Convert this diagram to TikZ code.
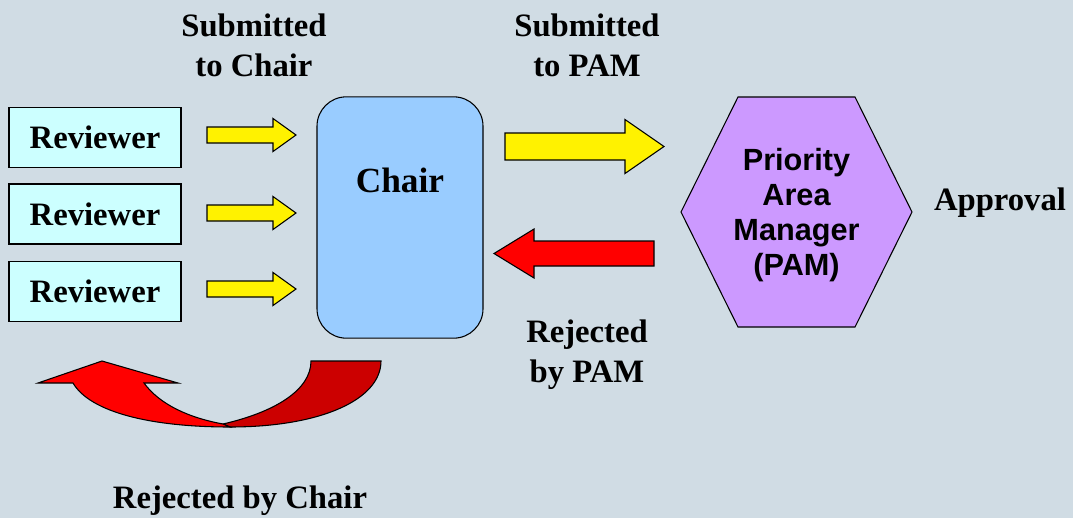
\documentclass[tikz,border=0pt]{standalone}
\usepackage{fontspec}
\setmainfont{Liberation Serif}
\setsansfont{Liberation Sans}
\usetikzlibrary{positioning,calc}
\definecolor{bgc}{RGB}{208,220,228}
\definecolor{revc}{RGB}{204,255,255}
\definecolor{chairc}{RGB}{153,204,255}
\definecolor{pamc}{RGB}{204,153,255}
\definecolor{darkred}{RGB}{204,0,0}
\tikzset{
  rev/.style={draw, thick, fill=revc, minimum width=129pt, minimum height=45pt, inner sep=0pt, font=\bfseries\fontsize{24.5}{30}\selectfont},
  chairbox/.style={draw, thick, fill=chairc, rounded corners=22pt, minimum width=124.5pt, minimum height=181pt},
  ttl/.style={font=\bfseries\fontsize{26.5}{30}\selectfont},
  lbl/.style={align=center, font=\bfseries\fontsize{24.5}{30}\selectfont},
  hexlbl/.style={align=center, font=\sffamily\bfseries\fontsize{23}{26.25}\selectfont},
  yarr/.style={draw, thick, fill=yellow},
  rarr/.style={draw, thick, fill=red},
}
% block arrow: style, tail x, neck x, tip x, y, half shaft, half head
\newcommand{\blkarrow}[7]{\draw[#1] (#2,#5-#6) -- (#3,#5-#6) -- (#3,#5-#7) -- (#4,#5) -- (#3,#5+#7) -- (#3,#5+#6) -- (#2,#5+#6) -- cycle;}

\begin{document}
\begin{tikzpicture}[x=0.75pt,y=-0.75pt]
\fill[bgc] (0,0) rectangle (1073,518);
\useasboundingbox (0,0) rectangle (1073,518);

% reviewers
\node[rev] (r1) at (95,137.5) {Reviewer};
\node[rev] (r2) at (95,214) {Reviewer};
\node[rev] (r3) at (95,291.5) {Reviewer};

% chair
\node[chairbox] (chair) at (400,217.5) {};
\node[ttl] (chairlbl) at (400,180) {Chair};

% priority area manager
\draw[thick, fill=pamc] (681,212) -- (738,97) -- (855,97) -- (912,212) -- (855,327) -- (738,327) -- cycle;
\node[hexlbl] (pam) at (796.5,215) {Priority\\Area\\Manager\\(PAM)};

% arrows
\blkarrow{yarr}{207}{273}{296}{135}{8}{16.5}
\blkarrow{yarr}{207}{273}{296}{213}{8}{16.5}
\blkarrow{yarr}{207}{273}{296}{289}{8}{16.5}
\blkarrow{yarr}{505}{625}{664}{146.5}{13.5}{27}
\blkarrow{rarr}{654}{534}{494}{253.5}{12.5}{24.5}

% back to the reviewers
\draw[thick, fill=darkred] (311,361) -- (381,361) .. controls (381,400) and (320,427) .. (230,427)
  -- (223,424) .. controls (275,412) and (311,390) .. (311,361) -- cycle;
\draw[thick, fill=red] (230,427) .. controls (150,427) and (90,412) .. (73,383)
  -- (38,383) -- (102,361) -- (178,383) -- (144,383)
  .. controls (160,405) and (190,418) .. (223,424) -- cycle;

% labels
\node[lbl] (subc) at (254,45) {Submitted\\to Chair};
\node[lbl] (subp) at (587,45) {Submitted\\to PAM};
\node[lbl] (rejp) at (587,355) {Rejected\\by PAM};
\node[lbl] (appr) at (1000,203) {Approval};
\node[lbl] (rejc) at (240,501) {Rejected by Chair};
\end{tikzpicture}
\end{document}
